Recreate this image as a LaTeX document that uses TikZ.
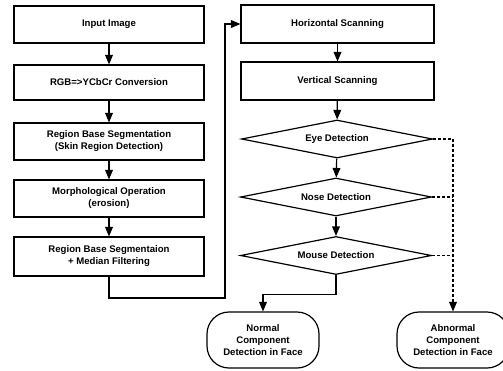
\documentclass[tikz,border=0pt]{standalone}
\usepackage{fontspec}
\setmainfont{Liberation Sans}
\usetikzlibrary{positioning,shapes.geometric,arrows}

\tikzset{
  procbox/.style={draw=black,rectangle,minimum width=190pt,minimum height=37pt,align=center,inner sep=1pt},
  decbox/.style={draw=black,diamond,aspect=5,minimum width=191pt,minimum height=38pt,inner sep=0pt},
  termbox/.style={draw=black,rectangle,rounded corners=22pt,minimum width=112pt,minimum height=56pt,align=center,inner sep=1pt},
}

\begin{document}
\begin{tikzpicture}[x=1pt,y=-1pt,line width=1.2pt,>=triangle 45,
                    font=\fontsize{9.6}{12}\selectfont\bfseries]
                    \useasboundingbox (0,0) rectangle (503,370);
                    % preprocessing column
                    \node[procbox] (in) at (109,24.5) {Input Image};
                    \node[procbox,minimum height=35pt] (rgb) at (109,82.5) {RGB=>YCbCr Conversion};
                    \node[procbox] (seg) at (109,141.5) {Region Base Segmentation\\(Skin Region Detection)};
                    \node[procbox] (morph) at (109,198.5) {Morphological Operation\\(erosion)};
                    \node[procbox,minimum height=39pt] (med) at (109,256.5) {Region Base Segmentaion\\+ Median Filtering};
                    % detection column
                    \node[procbox,minimum width=193pt,minimum height=38pt] (hor) at (337.5,24) {Horizontal Scanning};
                    \node[procbox,minimum width=193pt,minimum height=38pt] (ver) at (337.5,81) {Vertical Scanning};
                    \node[decbox] (eye) at (337,139) {Eye Detection};
                    \node[decbox] (nose) at (336,197) {Nose Detection};
                    \node[decbox] (mouse) at (336,255.5) {Mouse Detection};
                    \node[termbox] (normal) at (263,340) {Normal\\Component\\Detection in Face};
                    \node[termbox] (abnormal) at (453,340) {Abnormal\\Component\\Detection in Face};
                    \coordinate (turn) at (225,298);
                    \draw[->] (in) -- (rgb);
                    \draw[->] (rgb) -- (seg);
                    \draw[->] (seg) -- (morph);
                    \draw[->] (morph) -- (med);
                    \draw[->] (med) |- (turn) |- (hor);
                    \draw[->] (hor) -- (ver);
                    \draw[->] (ver) -- (eye);
                    \draw[->] (eye) -- (nose);
                    \draw[->] (nose) -- (mouse);
                    \draw[->] (mouse.south) -- ++(0,19) -| (normal);
                    \draw[->,densely dashed] (eye.east) -| (abnormal);
                    \draw[densely dashed] (nose.east) -- (nose.east -| abnormal);
                    \draw[densely dashed] (mouse.east) -- (mouse.east -| abnormal);
                \end{tikzpicture}
\end{document}
